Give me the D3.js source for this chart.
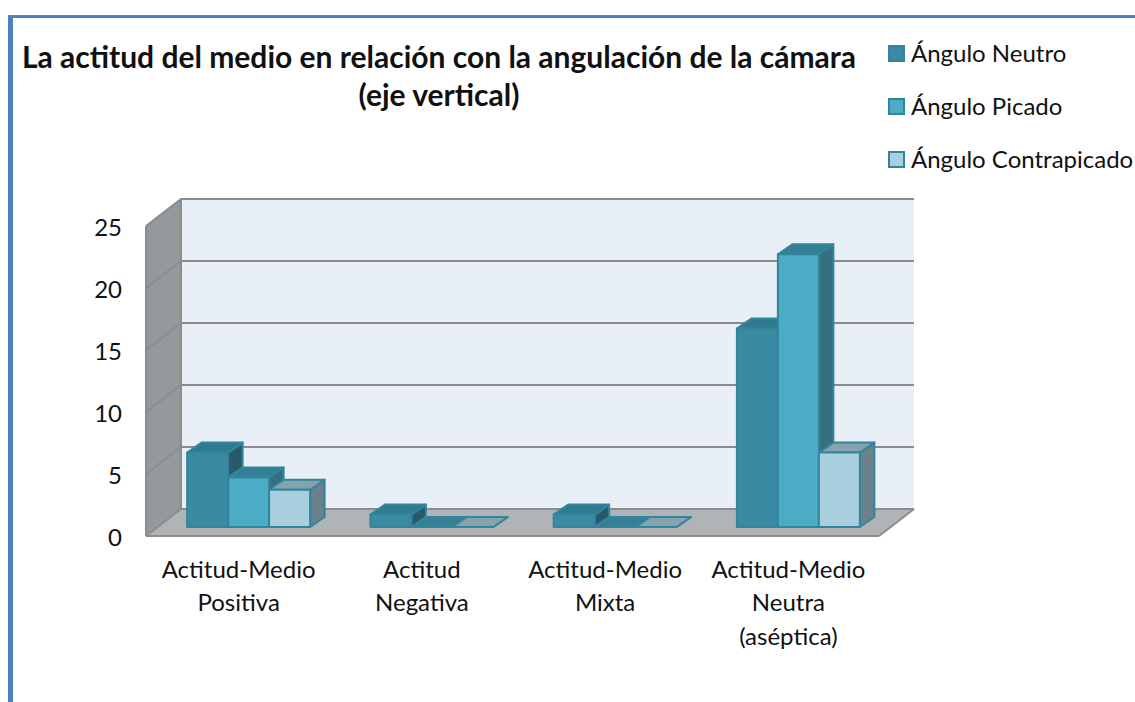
<!DOCTYPE html>
<html>
<head>
<meta charset="utf-8">
<script src="https://cdn.jsdelivr.net/npm/d3@7"></script>
<style>
  html, body { margin: 0; padding: 0; background: #fff; overflow: hidden; }
  svg { display: block; }
  text { font-family: Lato, sans-serif; fill: #111; }
</style>
</head>
<body>
<svg width="1135" height="702"></svg>
<script>
// chart data
var categories = ["Actitud-Medio Positiva", "Actitud Negativa", "Actitud-Medio Mixta", "Actitud-Medio Neutra (aséptica)"];
var categoryLines = [["Actitud-Medio", "Positiva"], ["Actitud", "Negativa"], ["Actitud-Medio", "Mixta"], ["Actitud-Medio", "Neutra", "(aséptica)"]];
var seriesNames = ["Ángulo Neutro", "Ángulo Picado", "Ángulo Contrapicado"];
var neutro = [6, 1, 1, 16];
var picado = [4, 0, 0, 22];
var contrapicado = [3, 0, 0, 6];
var allSeries = [neutro, picado, contrapicado];
var yTicks = [0, 5, 10, 15, 20, 25];
var titleLines = ["La actitud del medio en relación con la angulación de la cámara", "(eje vertical)"];

// face colours for each series
var frontColors = ["#3b8aa3", "#4bacc6", "#a9cfdf"];
var topColors = ["#2f7a90", "#357f96", "#85a3ad"];
var sideColors = ["#27596a", "#34707f", "#6b818b"];
var edgeColor = "#31859c";

var svg = d3.select("svg");

// fake 3d: the back wall sits up and to the right of the front plane
var depthX = 35, depthY = -27;
var barDepthX = 14.5, barDepthY = -10;
var barShiftX = 11, barShiftY = -9;

var x = d3.scaleBand().domain(categories).range([146, 879]).paddingInner(0.329).paddingOuter(0.1645);
var xSeries = d3.scaleBand().domain(d3.range(allSeries.length)).range([0, x.bandwidth()]);
var y = d3.scaleLinear().domain([0, 25]).range([536, 226]);

function poly(points) {
  return points.map(function(p) { return p.join(","); }).join(" ");
}

// page frame
svg.append("rect").attr("x", 8).attr("y", 15).attr("width", 1127).attr("height", 3).attr("fill", "#4f81bd");
svg.append("rect").attr("x", 8).attr("y", 15).attr("width", 5).attr("height", 687).attr("fill", "#4f81bd");

// title
svg.selectAll(".title").data(titleLines).enter().append("text")
    .attr("class", "title")
    .attr("x", 439)
    .attr("y", function(d, i) { return 68 + i * 38; })
    .attr("text-anchor", "middle")
    .attr("font-size", 30)
    .attr("font-weight", 700)
    .text(function(d) { return d; });

// walls
var x0 = x.range()[0], x1 = x.range()[1];
svg.append("polygon")
    .attr("points", poly([[x0 + depthX, y(25) + depthY], [x1 + depthX, y(25) + depthY], [x1 + depthX, y(0) + depthY], [x0 + depthX, y(0) + depthY]]))
    .attr("fill", "#e8eff7");
svg.append("polygon")
    .attr("points", poly([[x0, y(0)], [x0, y(25)], [x0 + depthX, y(25) + depthY], [x0 + depthX, y(0) + depthY]]))
    .attr("fill", "#96999c");
svg.append("polygon")
    .attr("points", poly([[x0, y(0)], [x0 + depthX, y(0) + depthY], [x1 + depthX, y(0) + depthY], [x1, y(0)]]))
    .attr("fill", "#b1b4b6");

// gridlines run along the left wall then across the back wall
var grid = svg.append("g").attr("fill", "none").attr("stroke", "#8c8c8c").attr("stroke-width", 2);
grid.selectAll("polyline").data(yTicks).enter().append("polyline")
    .attr("points", function(d) {
      return poly([[x0, y(d)], [x0 + depthX, y(d) + depthY], [x1 + depthX, y(d) + depthY]]);
    });
grid.append("line").attr("x1", x0).attr("x2", x1).attr("y1", y(0)).attr("y2", y(0));
grid.append("line").attr("x1", x1).attr("x2", x1 + depthX).attr("y1", y(0)).attr("y2", y(0) + depthY);
grid.append("line").attr("x1", x0).attr("x2", x0).attr("y1", y(0)).attr("y2", y(25));
grid.append("line").attr("x1", x0 + depthX).attr("x2", x0 + depthX).attr("y1", y(0) + depthY).attr("y2", y(25) + depthY);

// y labels
svg.selectAll(".ylab").data(yTicks).enter().append("text")
    .attr("class", "ylab")
    .attr("x", 122)
    .attr("y", function(d) { return y(d) + 2; })
    .attr("dy", "0.35em")
    .attr("text-anchor", "end")
    .attr("font-size", 24)
    .text(function(d) { return d; });

// bars, drawn left to right so each one overlaps the side of the previous
var bars = svg.append("g").attr("stroke", edgeColor).attr("stroke-width", 2).attr("stroke-linejoin", "round");
categories.forEach(function(cat, c) {
  allSeries.forEach(function(values, s) {
    var v = values[c];
    var l = x(cat) + xSeries(s) + barShiftX;
    var r = l + xSeries.bandwidth();
    var b = y(0) + barShiftY;
    var t = y(v) + barShiftY;
    var g = bars.append("g");
    g.append("polygon")
        .attr("points", poly([[r, b], [r + barDepthX, b + barDepthY], [r + barDepthX, t + barDepthY], [r, t]]))
        .attr("fill", sideColors[s]);
    g.append("polygon")
        .attr("points", poly([[l, t], [l + barDepthX, t + barDepthY], [r + barDepthX, t + barDepthY], [r, t]]))
        .attr("fill", topColors[s]);
    g.append("rect")
        .attr("x", l).attr("y", t)
        .attr("width", r - l).attr("height", b - t)
        .attr("fill", frontColors[s]);
  });
});

// category labels
var catLabels = svg.selectAll(".cat").data(categories).enter().append("text")
    .attr("class", "cat")
    .attr("text-anchor", "middle")
    .attr("font-size", 24);
catLabels.selectAll("tspan")
    .data(function(d, i) { return categoryLines[i]; })
    .enter().append("tspan")
    .attr("y", function(d, i) { return 577.5 + i * 33.5; })
    .attr("x", function() { return x(d3.select(this.parentNode).datum()) + x.bandwidth() / 2 + 1; })
    .text(function(d) { return d; });

// legend
var legendY = d3.scalePoint().domain(seriesNames).range([54, 160]);
var legend = svg.selectAll(".legend").data(seriesNames).enter().append("g").attr("class", "legend");
legend.append("rect")
    .attr("x", 889).attr("y", function(d) { return legendY(d) - 8; })
    .attr("width", 15).attr("height", 15)
    .attr("fill", function(d, i) { return frontColors[i]; })
    .attr("stroke", edgeColor).attr("stroke-width", 2);
legend.append("text")
    .attr("x", 911).attr("y", function(d) { return legendY(d) + 8; })
    .attr("font-size", 24)
    .text(function(d) { return d; });
</script>
</body>
</html>
